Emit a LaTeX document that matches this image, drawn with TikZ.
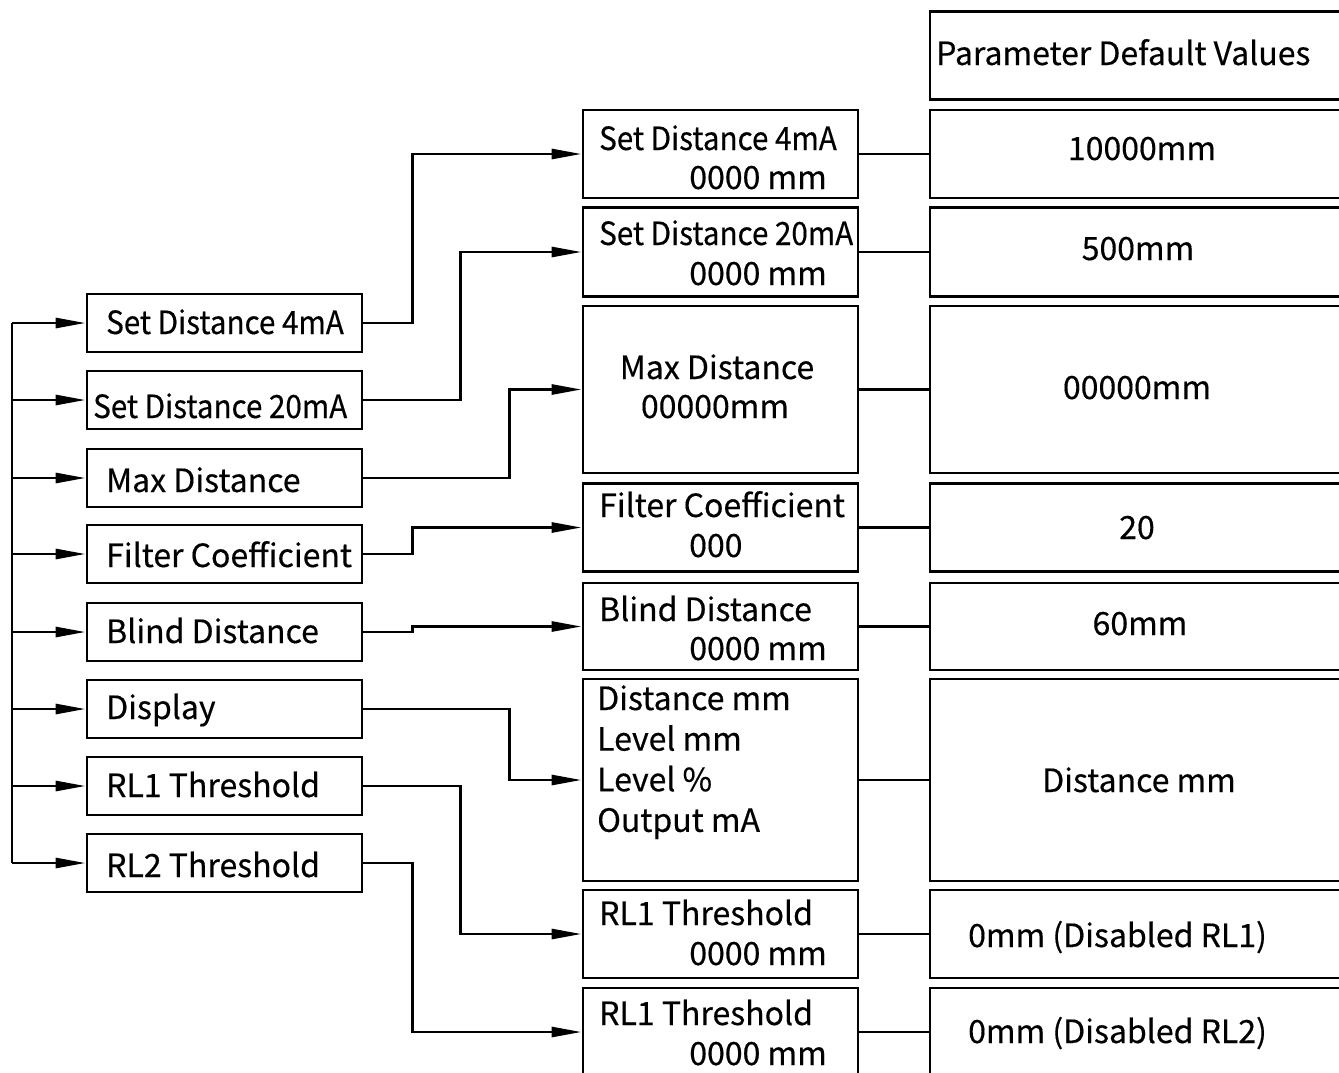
\documentclass[tikz,border=0pt]{standalone}
\usepackage{fontspec}
\setmainfont{Noto Sans CJK SC}[FakeBold=0.4]
\usetikzlibrary{arrows.meta}
\newcommand{\condensed}[1]{\scalebox{0.925}[1]{#1}}

\begin{document}
\begin{tikzpicture}[x=1pt,y=-1pt,
    box/.style={draw,line width=2.8pt,inner sep=0pt},
    txt/.style={inner sep=0pt,font=\fontsize{32}{38}\selectfont},
    link/.style={line width=2.8pt},
    arr/.style={-{Triangle[length=30pt,width=10pt]}}]
  \useasboundingbox (0,0) rectangle (1339,1072);
  % left menu
  \foreach \i/\y in {1/323,2/400,3/478,4/554,5/632,6/709,7/786,8/863}
    \node[box,minimum width=275pt,minimum height=58pt] (l\i) at (224.5,\y) {};
  \foreach \i/\x/\y/\t in {1/106/334/\condensed{Set Distance 4mA},2/93/418/\condensed{Set Distance 20mA},
      3/106/492/Max Distance,4/106/567/Filter Coefficient,5/106/643/Blind Distance,
      6/106/719/Display,7/106/797/RL1 Threshold,8/106/877/RL2 Threshold}
    \node[txt,anchor=base west] (lt\i) at (\x,\y) {\t};
  \coordinate (bus) at (12,0);
  \draw[link] (bus |- l1.west) -- (bus |- l8.west);
  \foreach \i in {1,...,8}
    \draw[link,arr] (bus |- l\i.west) -- (l\i.west);
  % screens and defaults
  \foreach \i/\y/\h in {1/154/88,2/252/89,3/389.5/167,4/527.5/88,5/626.5/87,
      6/780/202,7/934/88,8/1032/88} {
    \node[box,minimum width=275pt,minimum height=\h pt] (m\i) at (720.5,\y) {};
    \node[box,minimum width=420pt,minimum height=\h pt] (r\i) at (1140,\y) {};
    \draw[link] (m\i.east) -- (r\i.west); }
  \node[box,minimum width=420pt,minimum height=88pt] (r0) at (1140,55.5) {};
  \node[txt,anchor=base west] (head) at (936,65) {Parameter Default Values};
  % screen texts
  \foreach \i/\y/\t in {1/150/\condensed{Set Distance 4mA},2/245/\condensed{Set Distance 20mA},
      4/517/Filter Coefficient,5/621/Blind Distance,7/925/RL1 Threshold,8/1025/RL1 Threshold}
    \node[txt,anchor=base west] (ma\i) at (599,\y) {\t};
  \foreach \i/\y in {1/189,2/285,5/660,7/965,8/1065}
    \node[txt,anchor=base east] (mb\i) at (827,\y) {0000 mm};
  \node[txt,anchor=base] (ma3) at (717,379) {Max Distance};
  \node[txt,anchor=base] (mb3) at (715,418) {00000mm};
  \node[txt,anchor=base west] (mb4) at (689,557) {000};
  \foreach \t [count=\k] in {Distance mm,Level mm,Level \%,Output mA}
    \node[txt,anchor=base west] (d\k) at (597,{710+40.6*(\k-1)}) {\t};
  % default texts
  \foreach \i/\x/\y/\t in {1/1142/160/10000mm,2/1138/260/500mm,3/1137/399/00000mm,
      4/1137/539/20,5/1140/635/60mm,6/1139/792/Distance mm}
    \node[txt,anchor=base] (rt\i) at (\x,\y) {\t};
  \node[txt,anchor=base west] (rt7) at (968,947) {0mm (Disabled RL1)};
  \node[txt,anchor=base west] (rt8) at (968,1043) {0mm (Disabled RL2)};
  % links
  \foreach \i/\d in {1/49,2/97,3/146,4/49,5/49,6/146,7/97,8/49}
    \draw[link,arr] (l\i.east) -- ++(\d,0) |- (m\i.west);
\end{tikzpicture}
\end{document}
